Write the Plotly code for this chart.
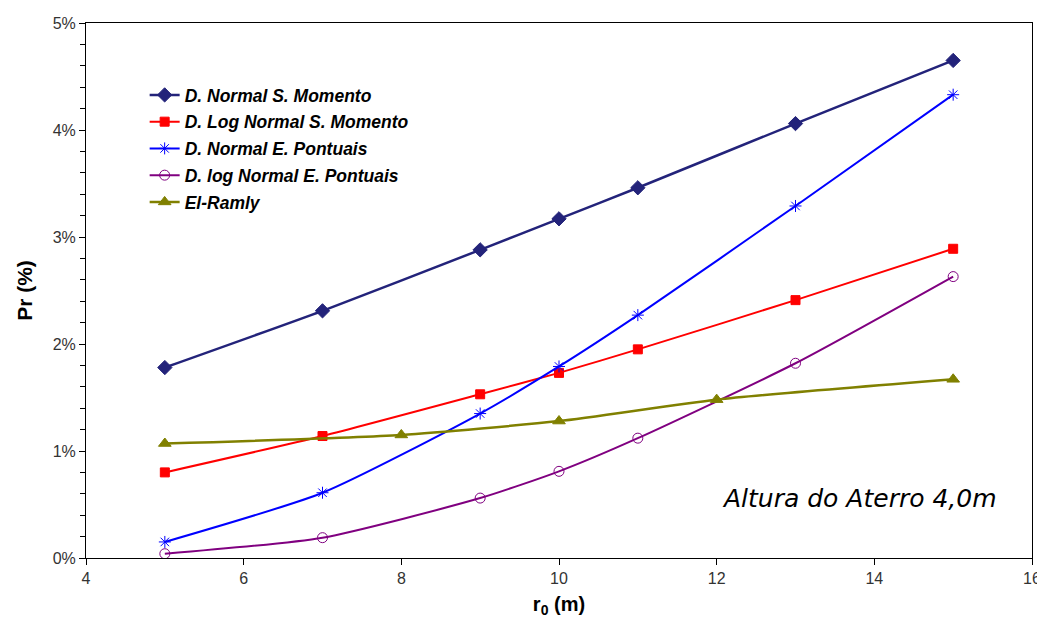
import plotly.graph_objects as go

r0_main = [5, 7, 9, 10, 11, 13, 15]
normal_sm = [1.78, 2.31, 2.88, 3.17, 3.46, 4.06, 4.65]
lognormal_sm = [0.80, 1.14, 1.53, 1.73, 1.95, 2.41, 2.89]
normal_ep = [0.15, 0.61, 1.35, 1.79, 2.27, 3.29, 4.33]
lognormal_ep = [0.04, 0.19, 0.56, 0.81, 1.12, 1.82, 2.63]
r0_ramly = [5, 8, 10, 12, 15]
el_ramly = [1.07, 1.15, 1.28, 1.48, 1.67]

names = ["D. Normal S. Momento", "D. Log Normal S. Momento", "D. Normal E. Pontuais",
         "D. log Normal E. Pontuais", "El-Ramly"]

fig = go.Figure()
specs = [
    (r0_main, normal_sm, "#23237A", "diamond", 11, 2.5),
    (r0_main, lognormal_sm, "#FF0000", "square", 9, 2),
    (r0_main, normal_ep, "#0000FF", "asterisk-open", 10, 2),
    (r0_main, lognormal_ep, "#800080", "circle-open", 10, 2),
    (r0_ramly, el_ramly, "#808000", "triangle-up", 11, 2.5),
]
for i, (xs, ys, col, sym, ms, lw) in enumerate(specs):
    fig.add_trace(go.Scatter(
        x=xs, y=ys, name=names[i], mode="lines+markers",
        line=dict(color=col, width=lw, shape="spline", smoothing=0.6),
        marker=dict(symbol=sym, size=ms, color=col, line=dict(color=col, width=1)),
        legendgroup=f"g{i}",
    ))

fig.update_layout(
    width=1037, height=614,
    margin=dict(l=78, r=13, t=15, b=64, autoexpand=False),
    plot_bgcolor="white", paper_bgcolor="white",
    font=dict(family="Liberation Sans, Arial", color="#222222"),
    legend=dict(x=0.062, y=0.899, xanchor="left", yanchor="top",
                traceorder="grouped", tracegroupgap=1,
                font=dict(size=17.5, family="Liberation Sans, Arial", color="black", weight="bold", style="italic"),
                bgcolor="rgba(0,0,0,0)"),
    showlegend=True,
)
fig.update_xaxes(
    range=[4, 16], tick0=4, dtick=2, showgrid=False, zeroline=False, automargin=False,
    showline=True, linecolor="black", linewidth=1, mirror=True,
    ticks="outside", ticklen=6, tickcolor="black", ticklabeloverflow="allow",
    tickfont=dict(size=16, family="Liberation Sans Narrow, Liberation Sans", color="#333333"),
    title=dict(text="r<sub>0</sub> (m)", font=dict(size=20, family="Liberation Sans Narrow, Liberation Sans", color="black", weight="bold"), standoff=10),
)
fig.update_yaxes(
    range=[0, 5], tick0=0, dtick=1, ticksuffix="%", showgrid=False, zeroline=False, automargin=False,
    showline=True, linecolor="black", linewidth=1, mirror=True,
    ticks="outside", ticklen=6, tickcolor="black",
    minor=dict(dtick=0.2, ticks="outside", ticklen=5, tickcolor="black"),
    tickfont=dict(size=16, family="Liberation Sans", color="#333333"),
    title=dict(text="Pr (%)", font=dict(size=21, family="Liberation Sans", color="black", weight="bold"), standoff=14),
)
fig.add_annotation(
    x=0.818, y=0.112, xref="paper", yref="paper", showarrow=False,
    text="Altura do Aterro 4,0m", xanchor="center", yanchor="middle",
    font=dict(size=25, family="DejaVu Sans", color="black", style="italic"),
)
fig.write_html("out.html")
